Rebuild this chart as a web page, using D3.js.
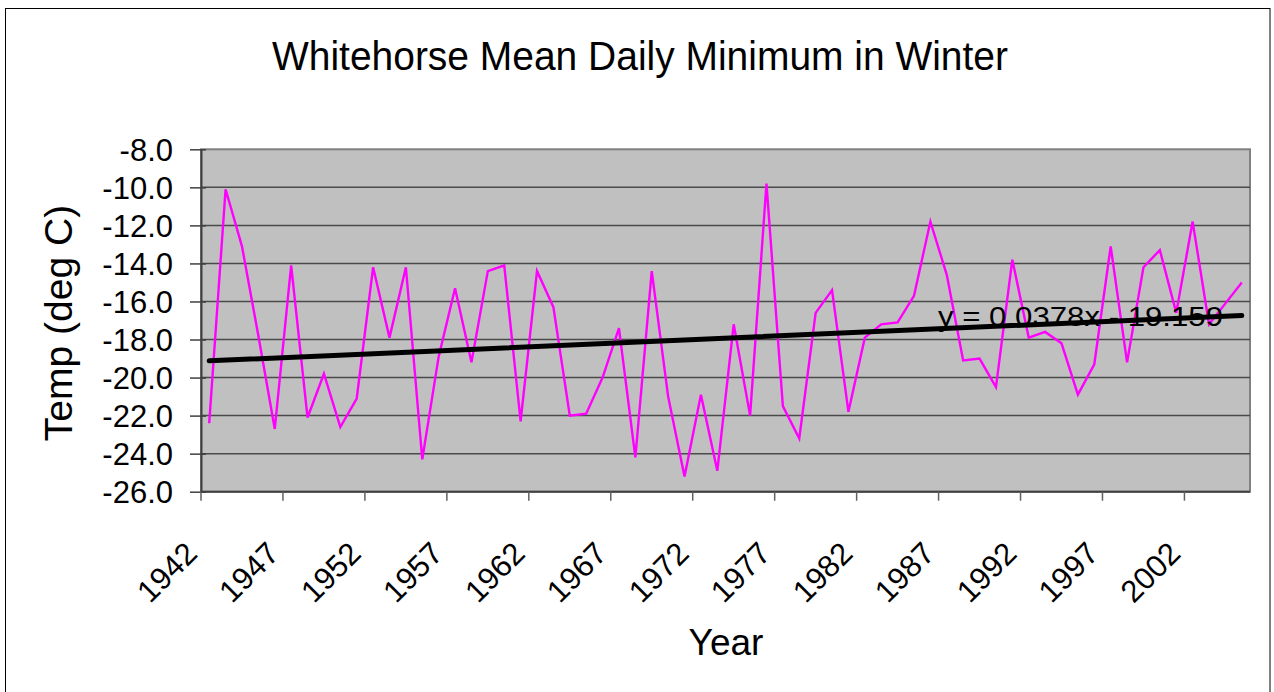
<!DOCTYPE html>
<html><head><meta charset="utf-8">
<script src="https://cdn.jsdelivr.net/npm/d3@7"></script>
<style>body{margin:0;background:#fff}svg{display:block}text{font-family:"Liberation Sans",Arial,sans-serif;fill:#000}</style>
</head><body>
<script>
const years = d3.range(1942, 2006);
const temps = [-22.4,-10.1,-13.1,-17.8,-22.7,-14.1,-22.1,-19.8,-22.6,-21.1,
 -14.2,-17.9,-14.2,-24.3,-18.9,-15.3,-19.2,-14.4,-14.1,-22.3,
 -14.4,-16.3,-22.0,-21.9,-20.0,-17.4,-24.2,-14.4,-21.0,-25.2,
 -20.9,-24.9,-17.2,-22.0,-9.8,-21.5,-23.2,-16.6,-15.4,-21.8,
 -17.9,-17.2,-17.1,-15.7,-11.8,-14.6,-19.1,-19.0,-20.5,-13.8,
 -17.9,-17.6,-18.2,-20.9,-19.3,-13.1,-19.2,-14.2,-13.3,-16.6,
 -11.8,-17.2,-16.1,-15.0];
const yTicks = d3.range(-26, -7, 2);
const xTickLabels = [1942,1947,1952,1957,1962,1967,1972,1977,1982,1987,1992,1997,2002];
const trendSlope = 0.0378, trendIntercept = -19.159;
const titleText = "Whitehorse Mean Daily Minimum in Winter";
const yTitle = "Temp (deg C)", xTitle = "Year";
const trendLabel = "y = 0.0378x - 19.159";

const W = 1274, H = 692;
const L = 201, R = 1250, T = 149.3, B = 491.7;
const svg = d3.select("body").append("svg").attr("width", W).attr("height", H);

svg.append("rect").attr("x", 5.5).attr("y", 8.5).attr("width", 1264.5).attr("height", 690)
  .attr("fill", "#fff").attr("stroke", "#000").attr("stroke-width", 1);

const x = d3.scaleBand().domain(years).range([L, R]).paddingInner(0).paddingOuter(0);
const xc = d => x(d) + x.bandwidth() / 2;
const y = d3.scaleLinear().domain([-26, -8]).range([B, T]);

svg.append("rect").attr("x", L).attr("y", T).attr("width", R - L).attr("height", B - T)
  .attr("fill", "#c0c0c0").attr("stroke", "#808080").attr("stroke-width", 2);

// gridlines
svg.append("g").selectAll("line").data(yTicks.filter(v => v > -26 && v < -8)).join("line")
  .attr("x1", L).attr("x2", R).attr("y1", d => y(d)).attr("y2", d => y(d))
  .attr("stroke", "#4a4a4a").attr("stroke-width", 1.5);

// y axis
const fmt = v => d3.format(".1f")(v).replace("\u2212", "-");
const yAxis = d3.axisLeft(y).tickValues(yTicks).tickFormat(fmt).tickSizeInner(11).tickSizeOuter(0).tickPadding(17);
const gy = svg.append("g").attr("transform", `translate(${L},0)`).call(yAxis);
gy.select(".domain").attr("stroke", "#404040").attr("stroke-width", 2);
gy.selectAll(".tick line").attr("stroke", "#404040").attr("stroke-width", 1.5).attr("x2", 5).attr("x1", -11);
gy.selectAll(".tick text").attr("font-size", 31).attr("font-family", "Liberation Sans, Arial, sans-serif").attr("fill", "#000").attr("dy", "0.36em");

// x axis ticks (between categories)
const tickPos = d3.range(0, years.length + 1, 5).map(i => L + i * x.bandwidth());
svg.append("line").attr("x1", L).attr("x2", R).attr("y1", B).attr("y2", B).attr("stroke", "#404040").attr("stroke-width", 2);
svg.append("g").selectAll("line").data(tickPos.filter(p => p <= R)).join("line")
  .attr("x1", d => d).attr("x2", d => d).attr("y1", B).attr("y2", B + 9)
  .attr("stroke", "#606060").attr("stroke-width", 1.5);
svg.append("g").selectAll("text").data(xTickLabels).join("text")
  .attr("transform", d => `translate(${xc(d) - 18},${B + 56}) rotate(-45)`)
  .attr("text-anchor", "end").attr("dy", "0.35em").attr("font-size", 31).text(d => d);

// data line
const line = d3.line().x((d, i) => xc(years[i])).y(d => y(d));
svg.append("path").datum(temps).attr("d", line).attr("fill", "none")
  .attr("stroke", "#ff00ff").attr("stroke-width", 2.4).attr("stroke-linejoin", "miter");

// trendline
const trend = years.map((yr, i) => trendSlope * (i + 1) + trendIntercept);
svg.append("line")
  .attr("x1", xc(years[0])).attr("y1", y(trend[0]))
  .attr("x2", xc(years[years.length - 1])).attr("y2", y(trend[trend.length - 1]))
  .attr("stroke", "#000").attr("stroke-width", 5).attr("stroke-linecap", "round");

svg.append("text").attr("x", 938).attr("y", 326).attr("font-size", 27)
  .attr("textLength", 285).attr("lengthAdjust", "spacingAndGlyphs").text(trendLabel);

// titles
svg.append("text").attr("x", 272).attr("y", 70).attr("font-size", 40)
  .attr("textLength", 736).attr("lengthAdjust", "spacingAndGlyphs").text(titleText);
svg.append("text").attr("transform", `translate(72,323) rotate(-90)`).attr("text-anchor", "middle").attr("font-size", 39).text(yTitle);
svg.append("text").attr("x", 726).attr("y", 655).attr("text-anchor", "middle").attr("font-size", 37).text(xTitle);
</script>
</body></html>
